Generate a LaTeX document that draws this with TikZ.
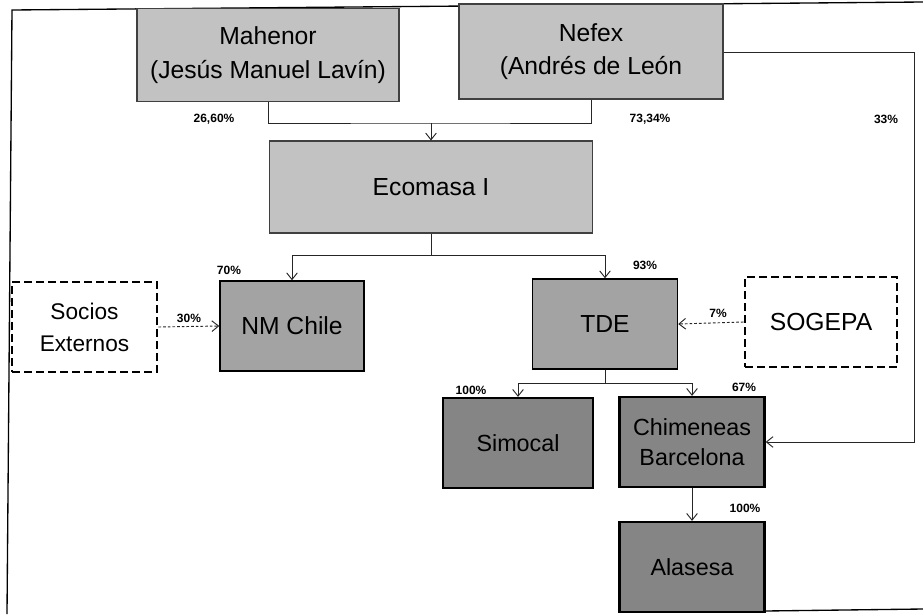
\documentclass[tikz,border=0pt]{standalone}
\usepackage{fontspec}
\setmainfont{Liberation Sans}
\usetikzlibrary{arrows.meta}
\definecolor{lightfill}{gray}{0.76}
\definecolor{midfill}{gray}{0.64}
\definecolor{darkfill}{gray}{0.52}
\definecolor{boxline}{gray}{0.25}
\begin{document}
\begin{tikzpicture}[x=0.75pt,y=-0.75pt,
  sz/.style 2 args={minimum width={#1*0.75pt}, minimum height={#2*0.75pt}},
  box/.style={rectangle, inner sep=0pt, align=center, font=\fontsize{18.5}{25}\selectfont},
  lightbox/.style={box, fill=lightfill, draw=boxline, line width=0.8pt},
  midbox/.style={box, fill=midfill, draw=black, line width=1.1pt},
  darkbox/.style={box, fill=darkfill, draw=black, line width=1.7pt, font=\fontsize{17.5}{22.5}\selectfont},
  extbox/.style={box, fill=white, draw=black, line width=2.2pt, dash pattern=on 6pt off 3pt},
  conn/.style={draw=black!85, line width=0.7pt},
  arr/.style={conn, -{Straight Barb[length=5pt,width=8pt]}},
  darr/.style={arr, dash pattern=on 2pt off 1.5pt},
  pct/.style={font=\fontsize{9}{10}\selectfont\bfseries, inner sep=0pt},
  frameline/.style={draw=black, line width=1pt}]
\useasboundingbox (0,0) rectangle (923,614);
% frame
\draw[frameline] (7,614) -- (12,10) -- (923,2);
\draw[frameline] (765,611) -- (923,609);
% boxes
\node[lightbox, sz={262}{93}] (mah) at (268,55) {Mahenor\\(Jesús Manuel Lavín)};
\node[lightbox, sz={264}{95}] (nef) at (591,51.5) {Nefex\\(Andrés de León};
\node[lightbox, sz={323}{92}] (eco) at (431,187) {Ecomasa I};
\node[extbox, sz={145}{90}, font=\fontsize{17}{24}\selectfont] (soc) at (84.5,327) {Socios\\Externos};
\node[midbox, sz={144}{90}] (nm) at (292,326) {NM Chile};
\node[midbox, sz={145}{90}] (tde) at (605,324) {TDE};
\node[extbox, sz={152}{90}] (sog) at (821,322) {SOGEPA};
\node[darkbox, sz={150}{90}] (sim) at (518,443) {Simocal};
\node[darkbox, sz={145}{90}] (chi) at (692,442) {Chimeneas\\Barcelona};
\node[darkbox, sz={145}{90}] (ala) at (692,567) {Alasesa};
% junctions
\coordinate (j1) at (431,123);
\coordinate (j2) at (431,255);
\coordinate (j3) at (605,383);
\coordinate (r1) at (914,52);
\coordinate (r2) at (914,442);
% connectors
\draw[conn] (mah.south) |- (j1) -| (nef.south);
\draw[arr] (j1) -- (eco.north);
\draw[conn] (eco.south) -- (j2);
\draw[arr] (j2) -| (nm.north);
\draw[arr] (j2) -| (tde.north);
\draw[darr] (soc.east) -- (nm.west);
\draw[darr] (sog.west) -- (tde.east);
\draw[conn] (tde.south) -- (j3);
\draw[arr] (j3) -| (sim.north);
\draw[arr] (j3) -| (chi.north);
\draw[arr] (chi.south) -- (ala.north);
\draw[arr] (nef.east |- r1) -- (r1) -- (r2) -- (chi.east |- r2);
% labels
\node[pct] (l1) at (214,119) {26,60\%};
\node[pct] (l2) at (650,119) {73,34\%};
\node[pct] (l3) at (886,119) {33\%};
\node[pct] (l4) at (229,270) {70\%};
\node[pct] (l5) at (189,318) {30\%};
\node[pct] (l6) at (645,265) {93\%};
\node[pct] (l7) at (718,313) {7\%};
\node[pct] (l8) at (471,390) {100\%};
\node[pct] (l9) at (744,387) {67\%};
\node[pct] (l10) at (745,508) {100\%};
\end{tikzpicture}
\end{document}
